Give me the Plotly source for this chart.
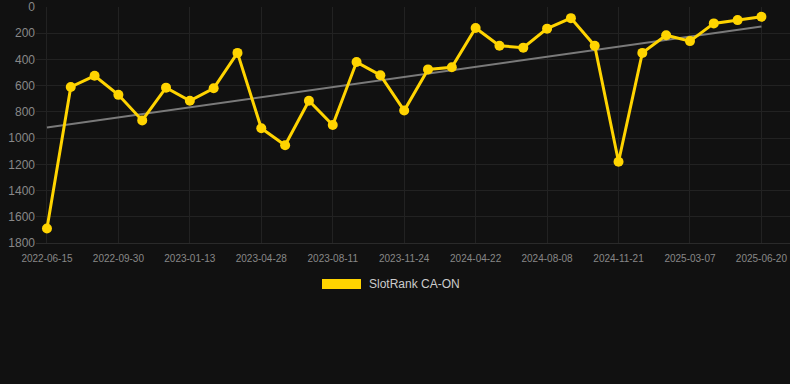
import numpy as np
import plotly.graph_objects as go

dates = [
    "2022-06-15", "2022-07-20", "2022-08-25", "2022-09-30", "2022-11-04",
    "2022-12-09", "2023-01-13", "2023-02-17", "2023-03-24", "2023-04-28",
    "2023-06-02", "2023-07-07", "2023-08-11", "2023-09-15", "2023-10-20",
    "2023-11-24", "2024-01-12", "2024-03-02", "2024-04-22", "2024-05-28",
    "2024-07-03", "2024-08-08", "2024-09-12", "2024-10-17", "2024-11-21",
    "2024-12-26", "2025-01-30", "2025-03-07", "2025-04-11", "2025-05-16",
    "2025-06-20",
]
ranks = [
    1690, 610, 525, 670, 865, 615, 715, 620, 350, 925,
    1055, 715, 900, 420, 520, 790, 476, 460, 160, 295,
    310, 165, 85, 295, 1180, 350, 215, 260, 125, 100,
    75,
]
tick_dates = dates[::3]
series_name = "SlotRank CA-ON"

idx = np.arange(len(ranks))
slope, intercept = np.polyfit(idx, np.array(ranks, dtype=float), 1)
trend = slope * idx + intercept

fig = go.Figure()
fig.add_trace(go.Scatter(
    x=dates, y=trend, mode="lines",
    line=dict(color="#7a7a7a", width=2),
    showlegend=False, hoverinfo="skip",
))
fig.add_trace(go.Scatter(
    x=dates, y=ranks, mode="lines+markers", name=series_name,
    line=dict(color="#FFD400", width=3),
    marker=dict(color="#FFD400", size=10),
    showlegend=False,
))

# legend drawn as a swatch + label
fig.add_shape(type="rect", xref="paper", yref="paper",
              x0=(322 - 36) / 754, x1=(361 - 36) / 754,
              y0=-(289 - 243) / 236, y1=-(279 - 243) / 236,
              fillcolor="#FFD400", line=dict(width=0))
fig.add_annotation(xref="paper", yref="paper",
                   x=(367 - 36) / 754, y=-(284 - 243) / 236,
                   xanchor="left", yanchor="middle", showarrow=False,
                   text=series_name,
                   font=dict(family="Liberation Sans, Arial", size=12, color="#cccccc"))

fig.update_layout(
    width=790, height=384,
    margin=dict(l=36, r=0, t=7, b=141),
    paper_bgcolor="#111111", plot_bgcolor="#111111",
    font=dict(family="Liberation Sans, Arial", color="#888888"),
    showlegend=False,
)
fig.update_xaxes(
    type="category", range=[-0.46, 31.2],
    tickmode="array", tickvals=tick_dates, ticktext=tick_dates,
    tickfont=dict(size=10, color="#888888"),
    showgrid=True, gridcolor="#222222", gridwidth=1,
    zeroline=False, showline=True, linecolor="#2a2a2a", ticks="",
    ticklabelstandoff=6,
)
fig.update_yaxes(
    range=[1800, 0], tickmode="array",
    tickvals=[0, 200, 400, 600, 800, 1000, 1200, 1400, 1600, 1800],
    tickfont=dict(size=12, color="#888888"),
    showgrid=True, gridcolor="#222222", gridwidth=1,
    zeroline=False, ticks="",
)

fig.write_html("out.html")
